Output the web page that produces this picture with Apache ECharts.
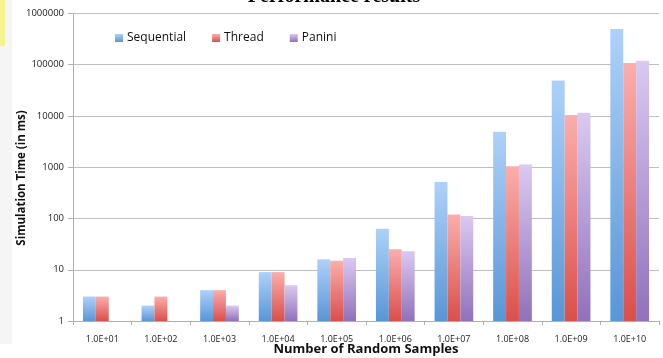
<!DOCTYPE html>
<html>
<head>
<meta charset="utf-8">
<script src="https://cdn.jsdelivr.net/npm/echarts@6/dist/echarts.min.js"></script>
<style>
html,body{margin:0;padding:0;background:#fff;}
#chart{width:663px;height:358px;}
</style>
</head>
<body>
<div id="chart"></div>
<script>
const categories = ['1.0E+01','1.0E+02','1.0E+03','1.0E+04','1.0E+05','1.0E+06','1.0E+07','1.0E+08','1.0E+09','1.0E+10'];
const sequential = [3, 2, 4, 9, 16, 63, 516, 4950, 49500, 499000];
const thread     = [3, 3, 4, 9, 15, 25, 120, 1045, 10500, 108000];
const panini     = ['-', '-', 2, 5, 17, 23, 112, 1130, 11600, 120000];
const yTicks = [1, 10, 100, 1000, 10000, 100000, 1000000];

function grad(top, bottom) {
  return new echarts.graphic.LinearGradient(0, 0, 0, 1, [
    {offset: 0, color: top}, {offset: 1, color: bottom}
  ]);
}
const seqColor = grad('#aed1fa', '#5896d6');
const thrColor = grad('#fbaeac', '#da4f4b');
const panColor = grad('#dac9f1', '#9171bb');

const chart = echarts.init(document.getElementById('chart'), null, {renderer: 'canvas'});
const labelFont = '"Open Sans", "Noto Sans", sans-serif';
const gridColor = '#bfbfbf';

chart.setOption({
  animation: false,
  backgroundColor: '#ffffff',
  graphic: [
    {type: 'rect', shape: {x: 0, y: 0, width: 12, height: 344}, style: {fill: '#f5f5f5'}, z: -10},
    {type: 'rect', shape: {x: 0, y: 0, width: 5, height: 46}, style: {fill: '#f5f38c'}, z: -9},
    {type: 'text', x: 334, y: 7, style: {text: 'Performance results', font: 'bold 20px "Liberation Serif", serif', fill: '#000', align: 'center', verticalAlign: 'bottom'}},
    {type: 'text', x: 22, y: 178, rotation: Math.PI / 2,
     style: {text: 'Simulation Time (in ms)', font: 'bold 11.5px ' + labelFont, fill: '#111', align: 'center', verticalAlign: 'middle'}}
  ],
  legend: {
    left: 115, top: 32, padding: 0,
    itemWidth: 8, itemHeight: 8, itemGap: 26,
    icon: 'rect',
    textStyle: {fontFamily: labelFont, fontSize: 12, color: '#111', padding: [0, 0, 0, -1]},
    data: ['Sequential', 'Thread', 'Panini']
  },
  grid: {left: 73, right: 4, top: 13.5, bottom: 37, containLabel: false, outerBoundsMode: 'none'},
  xAxis: {
    type: 'category',
    data: categories,
    name: 'Number of Random Samples',
    nameLocation: 'middle',
    nameGap: 22,
    nameMoveOverlap: false,
    nameTextStyle: {fontFamily: labelFont, fontSize: 13, fontWeight: 'bold', color: '#111'},
    axisLine: {lineStyle: {color: '#b0b0b0'}},
    axisTick: {show: true, length: 4, lineStyle: {color: '#b0b0b0'}},
    axisLabel: {interval: 0, fontFamily: labelFont, fontSize: 9, color: '#222', margin: 14},
    splitLine: {show: false}
  },
  yAxis: {
    type: 'log',
    logBase: 10,
    min: yTicks[0],
    max: yTicks[yTicks.length - 1],
    axisLine: {show: true, lineStyle: {color: '#b0b0b0'}},
    axisTick: {show: true, length: 5, lineStyle: {color: '#b0b0b0'}},
    axisLabel: {fontFamily: labelFont, fontSize: 9.5, color: '#222', margin: 9,
                formatter: function (v) { return String(Math.round(v)); }},
    splitLine: {show: true, lineStyle: {color: gridColor, width: 1}}
  },
  series: [
    {name: 'Sequential', type: 'bar', data: sequential, barWidth: '22%', barGap: '0%', itemStyle: {color: seqColor}},
    {name: 'Thread', type: 'bar', data: thread, barWidth: '22%', barGap: '0%', itemStyle: {color: thrColor}},
    {name: 'Panini', type: 'bar', data: panini, barWidth: '22%', barGap: '0%', itemStyle: {color: panColor}}
  ]
});
</script>
</body>
</html>
